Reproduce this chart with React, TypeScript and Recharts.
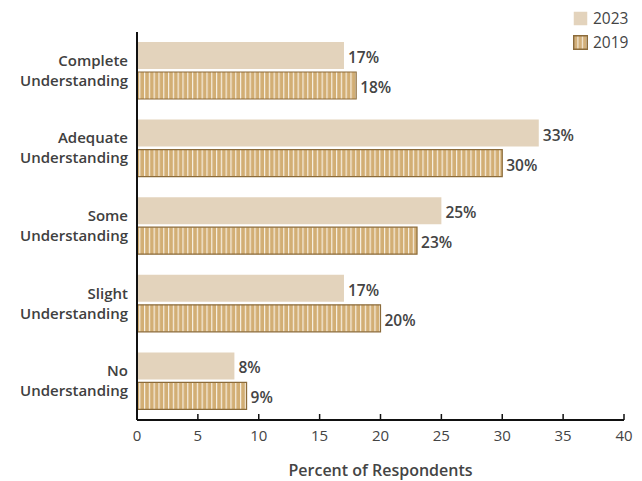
import React from "react";
import {
  BarChart,
  Bar,
  XAxis,
  YAxis,
  LabelList,
} from "recharts";

const categories = [
  "Complete Understanding",
  "Adequate Understanding",
  "Some Understanding",
  "Slight Understanding",
  "No Understanding",
];
const values2023 = [17, 33, 25, 17, 8];
const values2019 = [18, 30, 23, 20, 9];
const seriesNames = ["2023", "2019"];
const xTicks = [0, 5, 10, 15, 20, 25, 30, 35, 40];

const data = categories.map((name, i) => ({
  name,
  y2023: values2023[i],
  y2019: values2019[i],
}));

const FONT = "'Open Sans', 'Noto Sans', sans-serif";
const TEXT = "#444";

function CategoryTick(props: any) {
  const { x, y, payload } = props;
  const words = String(payload.value).split(" ");
  const tx = x - 1;
  return (
    <text
      x={tx}
      y={y}
      textAnchor="end"
      fontFamily={FONT}
      fontSize={15}
      fontWeight={600}
      fill="#404040"
    >
      <tspan x={tx} dy={-5}>{words[0]}</tspan>
      <tspan x={tx} dy={20}>{words.slice(1).join(" ")}</tspan>
    </text>
  );
}

function LegendBox() {
  const styles = [
    { fill: "#e3d3bc", stroke: "none" },
    { fill: "url(#stripesLegend)", stroke: "#8b6b3a" },
  ];
  return (
    <div
      style={{
        position: "absolute",
        left: 573,
        top: 6,
        fontFamily: FONT,
        fontSize: 15.5,
        color: TEXT,
      }}
    >
      {seriesNames.map((label, i) => (
        <div key={label} style={{ display: "flex", alignItems: "center", height: 24 }}>
          <svg width={15} height={15} style={{ marginRight: 5 }}>
            <defs>
              <pattern id="stripesLegend" width={4.4} height={10} patternUnits="userSpaceOnUse">
                <rect x={0} y={0} width={4.4} height={10} fill="#d3b07a" />
                <rect x={0} y={0} width={1.1} height={10} fill="#f7efe2" />
              </pattern>
            </defs>
            <rect
              x={0.75}
              y={0.75}
              width={13.5}
              height={13.5}
              fill={styles[i].fill}
              stroke={styles[i].stroke}
              strokeWidth={styles[i].stroke === "none" ? 0 : 1.5}
            />
          </svg>
          <span>{label}</span>
        </div>
      ))}
    </div>
  );
}

const labelStyle = { fill: TEXT, fontSize: 15.5, fontWeight: 600, fontFamily: FONT };

export default function App() {
  return (
    <div style={{ position: "absolute", left: 0, top: 0, width: 642, height: 481, background: "#fff" }}>
      <BarChart
        width={642}
        height={481}
        data={data}
        layout="vertical"
        margin={{ top: 32, right: 18, left: 0, bottom: 0 }}
        barGap={3}
        barCategoryGap={10}
      >
        <defs>
          <pattern id="stripes" width={4.8} height={10} patternUnits="userSpaceOnUse">
            <rect x={0} y={0} width={4.8} height={10} fill="#d2ae74" />
            <rect x={0} y={0} width={1.2} height={10} fill="#f7efe2" />
          </pattern>
        </defs>
        <XAxis
          type="number"
          domain={[0, 40]}
          ticks={xTicks}
          axisLine={{ stroke: "#111", strokeWidth: 2 }}
          tickLine={{ stroke: "#111", strokeWidth: 1.5 }}
          tickSize={-6}
          tickMargin={16}
          height={61}
          tick={{ fill: TEXT, fontSize: 15, fontFamily: FONT }}
          label={{
            value: "Percent of Respondents",
            position: "insideBottom",
            offset: 5,
            fill: TEXT,
            fontSize: 16,
            fontWeight: 600,
            fontFamily: FONT,
          }}
        />
        <YAxis
          type="category"
          dataKey="name"
          width={137}
          axisLine={{ stroke: "#111", strokeWidth: 2 }}
          tickLine={false}
          tick={<CategoryTick />}
        />
        <Bar dataKey="y2023" name={seriesNames[0]} fill="#e3d3bc" barSize={27} isAnimationActive={false}>
          <LabelList
            dataKey="y2023"
            position="right"
            offset={4}
            dy={2}
            formatter={(v: any) => `${v}%`}
            style={labelStyle}
          />
        </Bar>
        <Bar
          dataKey="y2019"
          name={seriesNames[1]}
          fill="url(#stripes)"
          stroke="#8b6b3a"
          strokeWidth={1.2}
          barSize={27}
          isAnimationActive={false}
        >
          <LabelList
            dataKey="y2019"
            position="right"
            offset={4}
            dy={2}
            formatter={(v: any) => `${v}%`}
            style={labelStyle}
          />
        </Bar>
      </BarChart>
      <LegendBox />
    </div>
  );
}
